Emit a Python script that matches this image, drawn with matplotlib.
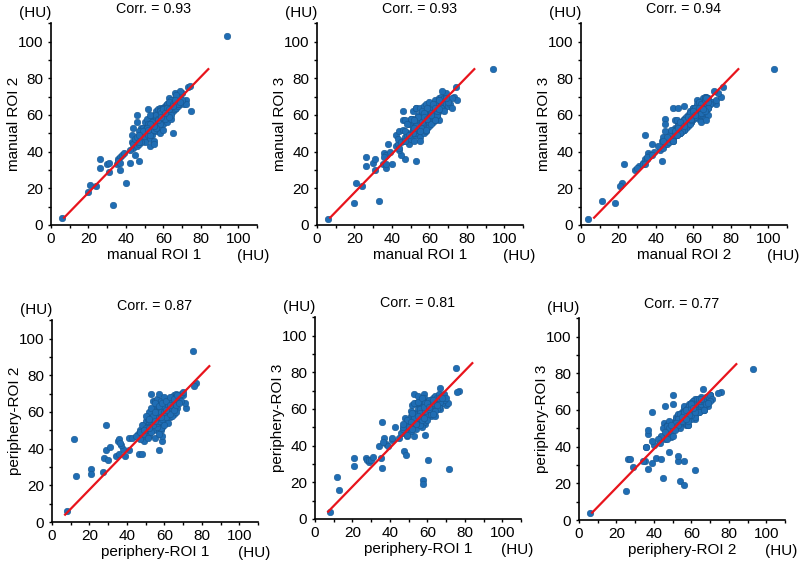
import matplotlib
matplotlib.use("Agg")
import matplotlib.pyplot as plt
from matplotlib.ticker import MultipleLocator

plt.rcParams['font.family'] = ['Liberation Sans', 'DejaVu Sans']

# manual ROI values (HU), one entry per case
roi1 = [94, 6, 20, 21, 24, 26, 26, 30, 31, 31, 33, 35, 36, 37, 37, 38, 40, 42, 47, 53,
        39, 36, 45, 37, 46, 46, 44, 42,
        43, 44, 43, 44, 46, 48, 49, 49, 45, 47, 50, 50, 51, 51, 52, 52, 52, 53, 53, 53,
        54, 54, 54, 55, 55, 55, 55, 55, 56, 56, 56, 56, 57, 57, 57, 57, 58, 58, 58, 58,
        59, 59, 59, 59, 60, 60, 60, 60, 61, 61, 61, 61, 62, 62, 62, 62, 63, 63, 63, 63,
        64, 64, 64, 64, 65, 65, 65, 65, 66, 66, 66, 66, 67, 67, 67, 68, 68, 68, 69, 69,
        70, 70, 71, 72, 73, 74, 75, 72, 69, 67, 48, 46, 50, 51, 47, 58, 60, 62, 64, 53,
        50, 48, 47, 53, 55, 57, 62, 64, 60, 63, 56, 58, 61, 59, 57, 54, 52, 60, 62, 65,
        66, 68, 70, 69, 64, 61, 63, 58, 56, 55, 53, 51, 49, 47, 52, 57, 59, 61, 63, 65]
roi2 = [103, 4, 18, 22, 21, 31, 36, 33, 34, 29, 11, 33, 36, 37, 30, 38, 23, 34, 35, 43,
        39, 35, 38, 34, 56, 60, 42, 41,
        45, 44, 49, 53, 43, 53, 46, 53, 47, 44, 48, 52, 50, 55, 49, 63, 54, 51, 57, 47,
        49, 55, 58, 46, 44, 57, 52, 60, 54, 58, 62, 51, 55, 59, 63, 53, 57, 61, 54, 64,
        56, 60, 63, 58, 59, 62, 55, 64, 65, 60, 57, 63, 61, 66, 59, 64, 69, 62, 60, 65,
        63, 67, 61, 65, 50, 64, 68, 62, 72, 65, 63, 67, 66, 64, 69, 67, 65, 70, 69, 66,
        72, 67, 66, 68, 75, 76, 62, 66, 73, 71, 50, 48, 56, 58, 51, 50, 52, 56, 58, 60,
        45, 45, 45, 49, 52, 55, 66, 68, 64, 67, 60, 62, 64, 61, 58, 56, 55, 63, 64, 66,
        68, 66, 68, 67, 60, 58, 59, 55, 53, 54, 55, 53, 51, 49, 52, 57, 59, 61, 63, 65]
roi3 = [85, 3, 12, 23, 21, 32, 37, 34, 36, 30, 13, 33, 39, 38, 31, 44, 33, 49, 36, 35,
        40, 37, 38, 33, 57, 62, 41, 43,
        44, 42, 47, 51, 46, 50, 44, 55, 45, 48, 47, 50, 53, 52, 46, 58, 56, 49, 55, 50,
        52, 53, 60, 48, 46, 54, 55, 58, 51, 57, 61, 53, 58, 56, 64, 50, 60, 59, 55, 62,
        53, 62, 60, 57, 61, 65, 57, 63, 60, 58, 59, 66, 63, 64, 56, 61, 67, 60, 64, 68,
        65, 62, 59, 66, 57, 62, 69, 64, 66, 63, 67, 70, 68, 65, 66, 64, 69, 67, 66, 70,
        68, 65, 66, 64, 70, 75, 68, 69, 72, 73, 49, 52, 58, 62, 57, 51, 54, 58, 60, 64,
        58, 55, 51, 64, 64, 65, 58, 60, 56, 57, 62, 66, 61, 64, 61, 59, 57, 67, 66, 68,
        64, 62, 67, 69, 62, 55, 57, 52, 56, 51, 54, 50, 49, 46, 53, 59, 58, 60, 64, 63]

# periphery ROI values (HU)
per1 = [75.5, 8, 12, 13, 21, 21, 27, 28, 28.6, 29, 30, 31, 34, 35, 36, 36, 38, 39, 41, 41,
        42.5, 46.5, 48, 47.5, 48.4, 49, 52.7, 59, 57, 59, 70, 71.5, 71, 76.8, 76, 57.5, 57.5,
        60.5, 56, 55, 58, 67, 37, 36.5,
        46, 47, 48, 49, 50, 50, 51, 51, 52, 52, 53, 53, 53, 54, 54, 54, 55, 55, 55, 55,
        56, 56, 56, 56, 57, 57, 57, 57, 58, 58, 58, 58, 59, 59, 59, 59, 60, 60, 60, 60,
        61, 61, 61, 61, 62, 62, 62, 62, 63, 63, 63, 63, 64, 64, 64, 64, 65, 65, 65, 65,
        66, 66, 66, 67, 67, 68, 68, 69, 69, 70, 54, 55, 56, 57, 58, 52, 51, 53, 55, 60,
        59, 61, 63, 65, 67, 62, 58, 60, 64, 66, 48, 50, 47, 49, 52, 57, 54, 56, 53, 51,
        54, 56, 58, 60, 62, 64, 66, 55, 57, 59, 61, 63, 65, 67, 60, 62, 64, 56, 53, 51,
        50, 52, 54, 57, 59, 61, 63, 65, 58, 60, 45, 47, 49, 52, 55, 58, 61, 63, 66, 68]
per2 = [93, 6, 45, 25, 29, 26, 27, 35, 39, 53, 34, 41, 36, 44, 37, 45.5, 40, 36, 39, 46,
        46, 37, 37, 48, 53, 44, 70, 44, 39, 47, 69, 62, 65, 75.6, 74, 54, 56,
        56, 50, 46, 50, 66, 42, 43,
        48, 50, 47, 52, 49, 55, 53, 50, 54, 58, 56, 51, 60, 55, 57, 52, 59, 56, 62, 53,
        58, 55, 61, 57, 60, 56, 62, 58, 59, 61, 56, 64, 60, 58, 63, 57, 61, 59, 64, 57,
        62, 60, 65, 58, 63, 61, 66, 59, 64, 62, 67, 60, 65, 63, 68, 61, 66, 64, 69, 62,
        67, 65, 70, 68, 66, 69, 67, 70, 66, 71, 66, 66, 67, 70, 66, 60, 56, 62, 65, 68,
        52, 55, 57, 59, 62, 54, 51, 53, 58, 60, 53, 58, 45, 48, 47, 48, 50, 52, 49, 46,
        58, 60, 62, 62, 64, 66, 68, 60, 63, 65, 66, 68, 67, 69, 58, 60, 62, 54, 53, 52,
        51, 56, 53, 55, 56, 57, 59, 61, 60, 60, 47, 49, 50, 51, 55, 57, 61, 64, 64, 65]
per3 = [82.5, 4, 23, 16, 29, 33, 33, 32, 31, 32, 32, 34, 40, 33, 28, 53, 41, 40, 43, 44,
        50, 47, 49, 37, 35, 45, 68, 46, 59, 52, 62, 27, 63, 70, 69, 21, 19,
        32, 63, 62, 68, 71.5, 44, 42,
        47, 49, 51, 50, 48, 53, 56, 52, 50, 57, 55, 54, 58, 57, 52, 56, 60, 54, 58, 57,
        56, 59, 62, 53, 58, 61, 55, 57, 60, 57, 62, 59, 56, 61, 60, 58, 63, 57, 61, 60,
        59, 64, 62, 58, 61, 65, 60, 63, 62, 66, 64, 59, 63, 60, 67, 65, 64, 61, 66, 63,
        65, 62, 68, 66, 64, 67, 63, 68, 65, 66, 63, 64, 60, 65, 66, 62, 59, 63, 67, 64,
        55, 57, 60, 62, 60, 56, 53, 58, 56, 61, 55, 52, 50, 54, 51, 50, 49, 51, 45, 48,
        52, 55, 58, 56, 59, 62, 64, 64, 66, 63, 65, 63, 60, 64, 54, 57, 59, 58, 55, 53,
        50, 58, 52, 54, 59, 60, 57, 62, 61, 63, 44, 52, 46, 49, 56, 55, 61, 65, 66, 66]

# fitted line end points, same for every panel
line_x = [7, 84]
line_y = [4, 85]

panels = [
    (roi1, roi2, 'manual ROI 1', 'manual ROI 2', 'Corr. = 0.93'),
    (roi1, roi3, 'manual ROI 1', 'manual ROI 3', 'Corr. = 0.93'),
    (roi2, roi3, 'manual ROI 2', 'manual ROI 3', 'Corr. = 0.94'),
    (per1, per2, 'periphery-ROI 1', 'periphery-ROI 2', 'Corr. = 0.87'),
    (per1, per3, 'periphery-ROI 1', 'periphery-ROI 3', 'Corr. = 0.81'),
    (per2, per3, 'periphery-ROI 2', 'periphery-ROI 3', 'Corr. = 0.77'),
]

W, H = 800, 565
# axes origin in pixels (left spine x, bottom spine y)
origins = [(51, 225), (317, 225), (581, 225), (52, 522), (315, 519), (579, 520)]
aw, ah = 206, 201.7

fig = plt.figure(figsize=(W / 100, H / 100), dpi=100)

for (xs, ys, xl, yl, title), (ox, oy) in zip(panels, origins):
    ax = fig.add_axes([ox / W, 1 - oy / H, aw / W, ah / H])
    ax.scatter(xs, ys, s=22, c='#1f6db4', edgecolors='#17568f', linewidths=0.4, zorder=3)
    ax.plot(line_x, line_y, color='#e8141c', lw=1.6, zorder=4)
    ax.set_xlim(0, 110)
    ax.set_ylim(0, 110)
    ax.set_xticks(range(0, 101, 20))
    ax.set_yticks(range(0, 101, 20))
    ax.xaxis.set_minor_locator(MultipleLocator(10))
    ax.yaxis.set_minor_locator(MultipleLocator(10))
    ax.tick_params(which='both', direction='out', length=2.3, width=1, labelsize=11)
    ax.tick_params(axis='x', pad=2.6)
    ax.tick_params(axis='y', pad=3.2)
    for side in ('top', 'right'):
        ax.spines[side].set_visible(False)
    for side in ('left', 'bottom'):
        ax.spines[side].set_linewidth(1.2)
    ax.set_xlabel(xl, fontsize=11)
    ax.xaxis.set_label_coords(0.5, -0.112)
    ax.set_ylabel(yl, fontsize=11)
    ax.yaxis.set_label_coords(-0.145, 0.5)
    ax.text(1.06, -0.172, '(HU)', transform=ax.transAxes, ha='right', va='baseline', fontsize=11)
    ax.text(-0.078, 1.033, '(HU)', transform=ax.transAxes, ha='center', va='baseline', fontsize=11)
    ax.text(0.5, 1.053, title, transform=ax.transAxes, ha='center', va='baseline', fontsize=10.3)

fig.savefig('out.png', dpi=100)
